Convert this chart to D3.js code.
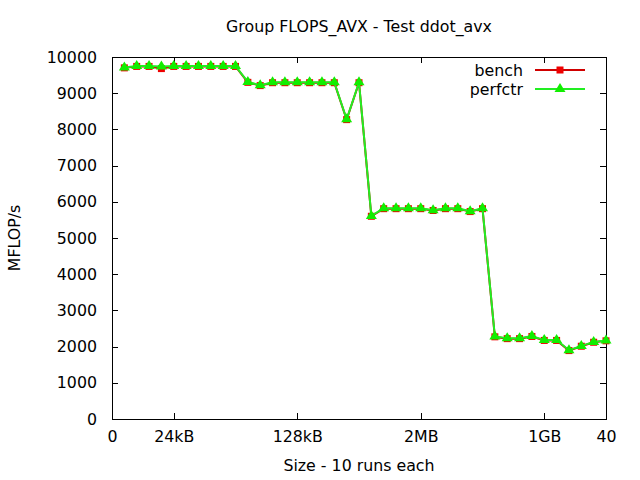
<!DOCTYPE html>
<html>
<head>
<meta charset="utf-8">
<script src="https://cdn.jsdelivr.net/npm/d3@7"></script>
<style>
  html, body { margin: 0; padding: 0; background: #fff; }
  svg { display: block; }
  text { font-family: "DejaVu Sans", sans-serif; fill: #000; }
</style>
</head>
<body>
<svg id="chart" width="640" height="480"></svg>
<script>
const xValues = [1,2,3,4,5,6,7,8,9,10,11,12,13,14,15,16,17,18,19,20,21,22,23,24,25,26,27,28,29,30,31,32,33,34,35,36,37,38,39,40];
const bench = [9700,9740,9740,9680,9740,9740,9740,9740,9740,9740,
               9300,9210,9290,9290,9290,9290,9290,9290,8270,9290,
               5600,5810,5810,5810,5810,5760,5810,5810,5730,5810,
               2270,2220,2220,2280,2170,2170,1890,2010,2120,2160];
const perfctr = [9710,9750,9750,9740,9750,9750,9750,9750,9750,9750,
                 9310,9220,9300,9300,9300,9300,9300,9300,8280,9300,
                 5610,5820,5820,5820,5820,5770,5820,5820,5740,5820,
                 2280,2230,2230,2290,2180,2180,1900,2020,2130,2170];
const xTickValues = [0,5,15,25,35,40];
const xTickLabels = ["0","24kB","128kB","2MB","1GB","40"];
const yTickValues = [0,1000,2000,3000,4000,5000,6000,7000,8000,9000,10000];
const seriesNames = ["bench","perfctr"];

const svg = d3.select("#chart");
const L = 112, R = 606, T = 57, B = 419;
const FS = "15.8px";

const x = d3.scaleLinear().domain([0,40]).range([L,R]);
const y = d3.scaleLinear().domain([0,10000]).range([B,T]);

// frame
svg.append("rect").attr("x",L).attr("y",T).attr("width",R-L).attr("height",B-T)
  .attr("fill","none").attr("stroke","#000").attr("stroke-width",1).attr("shape-rendering","crispEdges");

const tickFmt = d => xTickLabels[xTickValues.indexOf(d)];
const gx = svg.append("g").attr("transform",`translate(0,${B})`)
  .call(d3.axisBottom(x).tickValues(xTickValues).tickFormat(tickFmt).tickSize(-6).tickSizeOuter(0).tickPadding(12));
const gxt = svg.append("g").attr("transform",`translate(0,${T})`)
  .call(d3.axisTop(x).tickValues(xTickValues).tickFormat("").tickSize(-6).tickSizeOuter(0));
const gy = svg.append("g").attr("transform",`translate(${L},0)`)
  .call(d3.axisLeft(y).tickValues(yTickValues).tickFormat(d3.format("d")).tickSize(-6).tickSizeOuter(0).tickPadding(15));
const gyr = svg.append("g").attr("transform",`translate(${R},0)`)
  .call(d3.axisRight(y).tickValues(yTickValues).tickFormat("").tickSize(-6).tickSizeOuter(0));
[gx,gxt,gy,gyr].forEach(g => {
  g.select(".domain").remove();
  g.selectAll("line").attr("stroke","#000").attr("shape-rendering","crispEdges");
  g.selectAll("text").style("font-family","DejaVu Sans, sans-serif").style("font-size",FS).attr("fill","#111");
});

// titles
svg.append("text").attr("x",(L+R)/2).attr("y",26).attr("text-anchor","middle")
  .attr("dominant-baseline","central").style("font-size",FS).attr("fill","#111").text("Group FLOPS_AVX - Test ddot_avx");
svg.append("text").attr("x",(L+R)/2).attr("y",465).attr("text-anchor","middle")
  .attr("dominant-baseline","central").style("font-size",FS).attr("fill","#111").text("Size - 10 runs each");
svg.append("text").attr("transform",`translate(14,${(T+B)/2}) rotate(-90)`).attr("text-anchor","middle")
  .attr("dominant-baseline","central").style("font-size",FS).attr("fill","#111").text("MFLOP/s");

const lineGen = d3.line().x((d,i) => x(xValues[i])).y(d => y(d));
const redLine = "#d00000", redMark = "#ee0000";
const greenLine = "#22ee22", greenMark = "#11ee00";

// bench
svg.append("path").datum(bench).attr("d",lineGen).attr("fill","none")
  .attr("stroke",redLine).attr("stroke-width",2);
svg.append("g").selectAll("rect").data(bench).join("rect")
  .attr("x",(d,i)=>x(xValues[i])-3.5).attr("y",d=>y(d)-3.5)
  .attr("width",7).attr("height",7).attr("fill",redMark);

// perfctr
const tri = (cx,cy) => `M${cx},${cy-6}L${cx+5.5},${cy+3}L${cx-5.5},${cy+3}Z`;
svg.append("path").datum(perfctr).attr("d",lineGen).attr("fill","none")
  .attr("stroke",greenLine).attr("stroke-width",2);
svg.append("g").selectAll("path").data(perfctr).join("path")
  .attr("d",(d,i)=>tri(x(xValues[i]),y(d))).attr("fill",greenMark);

// legend
const legY = [70,89];
seriesNames.forEach((name,k) => {
  svg.append("text").attr("x",523).attr("y",legY[k]).attr("text-anchor","end")
    .attr("dominant-baseline","central").style("font-size",FS).attr("fill","#111").text(name);
  svg.append("line").attr("x1",535).attr("x2",585).attr("y1",legY[k]).attr("y2",legY[k])
    .attr("stroke",k===0?redLine:greenLine).attr("stroke-width",2);
  if (k===0) {
    svg.append("rect").attr("x",560-3.5).attr("y",legY[k]-3.5).attr("width",7).attr("height",7).attr("fill",redMark);
  } else {
    svg.append("path").attr("d",tri(560,legY[k])).attr("fill",greenMark);
  }
});
</script>
</body>
</html>
